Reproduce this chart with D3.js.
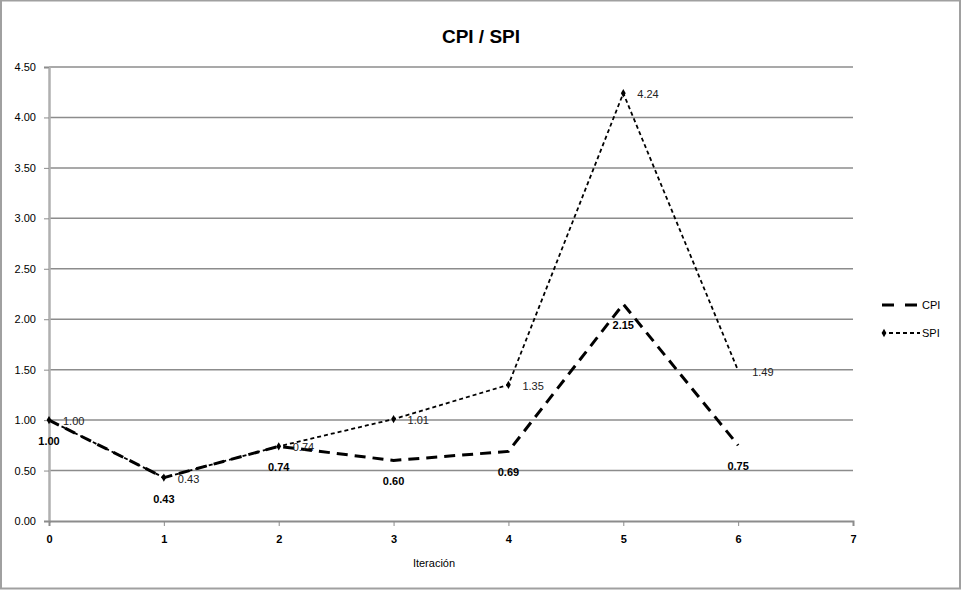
<!DOCTYPE html>
<html><head><meta charset="utf-8">
<script src="https://cdn.jsdelivr.net/npm/d3@7"></script>
<style>body{margin:0;background:#fff}svg{display:block}</style>
</head><body>
<svg id="c" width="962" height="593"></svg>
<script>
const iterations = [0,1,2,3,4,5,6];
const cpiValues = [1.00,0.43,0.74,0.60,0.69,2.15,0.75];
const spiValues = [1.00,0.43,0.74,1.01,1.35,4.24,1.49];
const yTicks = [0,0.5,1,1.5,2,2.5,3,3.5,4,4.5];
const xTicks = [0,1,2,3,4,5,6,7];
const title = "CPI / SPI";
const xTitle = "Iteración";

const svg = d3.select("#c");
const font = "Liberation Sans, Arial, sans-serif";
const x = d3.scaleLinear().domain([0,7]).range([49,853]);
const y = d3.scaleLinear().domain([0,4.5]).range([521,67]);

// outer frame
svg.append("rect").attr("x",1).attr("y",0.5).attr("width",959).attr("height",588)
  .attr("fill","none").attr("stroke","#a0a0a0").attr("stroke-width",2);

// gridlines
svg.append("g").selectAll("line").data(yTicks.filter(d=>d>0)).join("line")
  .attr("x1",x(0)).attr("x2",x(7)).attr("y1",d=>y(d)).attr("y2",d=>y(d))
  .attr("stroke","#8c8c8c").attr("stroke-width",1.5);

// y axis
const ya = svg.append("g").attr("transform",`translate(${x(0)},0)`)
  .call(d3.axisLeft(y).tickValues(yTicks).tickFormat(d3.format(".2f")).tickSize(5).tickPadding(8));
ya.select(".domain").attr("stroke","#b0b0b0").attr("stroke-width",2.5);
ya.selectAll(".tick line").attr("stroke","#8c8c8c");
ya.selectAll("text").attr("font-family",font).attr("font-size",11).attr("fill","#000");

// x axis
const xa = svg.append("g").attr("transform",`translate(0,${y(0)})`)
  .call(d3.axisBottom(x).tickValues(xTicks).tickFormat(d3.format("d")).tickSize(5).tickPadding(9));
xa.select(".domain").attr("stroke","#8c8c8c").attr("stroke-width",2);
xa.selectAll(".tick line").attr("stroke","#8c8c8c");
xa.selectAll("text").attr("font-family",font).attr("font-size",11).attr("font-weight","bold").attr("fill","#000");

// title
svg.append("text").attr("x",481).attr("y",43).attr("text-anchor","middle")
  .attr("font-family",font).attr("font-size",19).attr("font-weight","bold").text(title);
svg.append("text").attr("x",434).attr("y",567).attr("text-anchor","middle")
  .attr("font-family",font).attr("font-size",11).text(xTitle);

const line = d3.line().x((d,i)=>x(iterations[i])).y(d=>y(d));

// SPI
svg.append("path").datum(spiValues).attr("d",line).attr("fill","none")
  .attr("stroke","#000").attr("stroke-width",1.8).attr("stroke-dasharray","4,3");
svg.append("g").selectAll("path").data(spiValues.slice(0,6)).join("path")
  .attr("transform",(d,i)=>`translate(${x(iterations[i])},${y(d)})`)
  .attr("d",d3.symbol(d3.symbolDiamond,20)).attr("fill","#000");

// CPI
svg.append("path").datum(cpiValues).attr("d",line).attr("fill","none")
  .attr("stroke","#000").attr("stroke-width",3).attr("stroke-dasharray","11,7");

// labels
svg.append("g").selectAll("text").data(cpiValues).join("text")
  .attr("x",(d,i)=>x(iterations[i])).attr("y",d=>y(d)+25).attr("text-anchor","middle")
  .attr("font-family",font).attr("font-size",11).attr("font-weight","bold").text(d=>d.toFixed(2));
svg.append("g").selectAll("text").data(spiValues).join("text")
  .attr("x",(d,i)=>x(iterations[i])+14).attr("y",d=>y(d)+5)
  .attr("font-family",font).attr("font-size",11).attr("fill","#222").text(d=>d.toFixed(2));

// legend
const lg = svg.append("g");
lg.append("line").attr("x1",882).attr("x2",917).attr("y1",305).attr("y2",305)
  .attr("stroke","#000").attr("stroke-width",3).attr("stroke-dasharray","12,11");
lg.append("text").attr("x",922).attr("y",309).attr("font-family",font).attr("font-size",11).text("CPI");
lg.append("line").attr("x1",882).attr("x2",920).attr("y1",333).attr("y2",333)
  .attr("stroke","#000").attr("stroke-width",1.8).attr("stroke-dasharray","4,3");
lg.append("path").attr("transform","translate(884,333)").attr("d",d3.symbol(d3.symbolDiamond,20)).attr("fill","#000");
lg.append("text").attr("x",922).attr("y",337).attr("font-family",font).attr("font-size",11).text("SPI");
</script>
</body></html>
